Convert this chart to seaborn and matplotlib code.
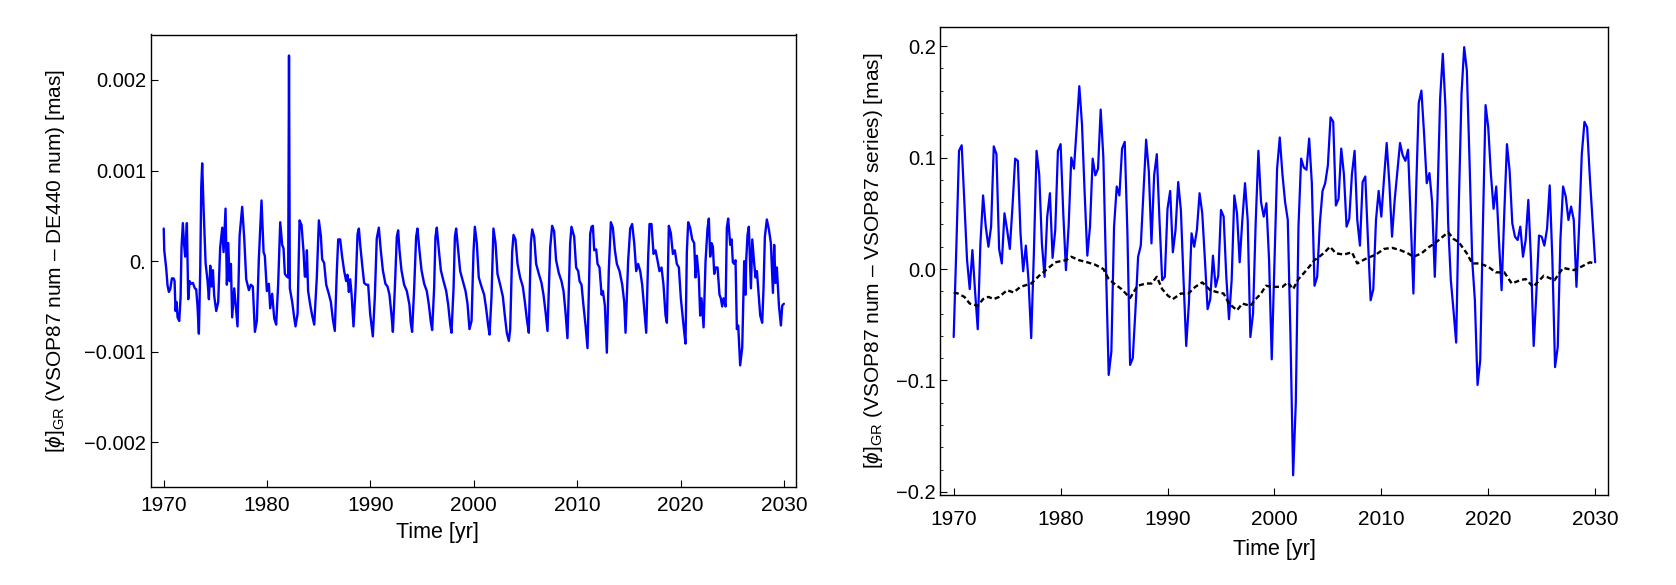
import numpy as np
import pandas as pd
import matplotlib
matplotlib.use("Agg")
import matplotlib.pyplot as plt
import seaborn as sns
from matplotlib.ticker import MultipleLocator

# ---------------- data: left panel (VSOP87 num - DE440 num), values in 1e-3 mas ----------------
left_t = [1970.00, 1970.05, 1970.24, 1970.37, 1970.50, 1970.63, 1970.79, 1970.95, 1971.05, 1971.14,
          1971.24, 1971.34, 1971.50, 1971.63, 1971.72, 1971.85, 1971.98, 1972.08, 1972.24, 1972.37,
          1972.50, 1972.63, 1972.82, 1973.01, 1973.14, 1973.27, 1973.40, 1973.53, 1973.63, 1973.72,
          1973.85, 1974.05, 1974.24, 1974.37, 1974.50, 1974.63, 1974.76, 1974.88, 1975.08, 1975.27,
          1975.46, 1975.66, 1975.79, 1975.98, 1976.11, 1976.24, 1976.37, 1976.50, 1976.62, 1976.82,
          1977.01, 1977.14, 1977.34, 1977.59, 1977.79, 1977.98, 1978.24, 1978.43, 1978.62, 1978.82,
          1979.01, 1979.20, 1979.46, 1979.66, 1979.78, 1979.98, 1980.17, 1980.30, 1980.49, 1980.69,
          1980.88, 1981.07, 1981.27, 1981.46, 1981.59, 1981.72, 1981.91, 1982.04, 1982.12, 1982.20,
          1982.43, 1982.62, 1982.75, 1982.95, 1983.14, 1983.33, 1983.53, 1983.65, 1983.78, 1983.85,
          1983.97, 1984.17, 1984.36, 1984.56, 1984.81, 1985.01, 1985.20, 1985.33, 1985.52, 1985.72,
          1985.97, 1986.17, 1986.36, 1986.55, 1986.75, 1986.88, 1987.07, 1987.26, 1987.46, 1987.65,
          1987.78, 1987.91, 1988.04, 1988.17, 1988.36, 1988.56, 1988.75, 1988.88, 1989.01, 1989.20,
          1989.39, 1989.59, 1989.78, 1989.97, 1990.23, 1990.42, 1990.61, 1990.81, 1991.00, 1991.20,
          1991.45, 1991.65, 1991.84, 1992.04, 1992.17, 1992.36, 1992.55, 1992.68, 1992.81, 1993.00,
          1993.26, 1993.52, 1993.77, 1993.90, 1994.03, 1994.23, 1994.42, 1994.55, 1994.74, 1994.94,
          1995.20, 1995.45, 1995.65, 1995.84, 1995.97, 1996.16, 1996.29, 1996.42, 1996.62, 1996.81,
          1997.07, 1997.33, 1997.52, 1997.72, 1997.84, 1998.04, 1998.17, 1998.29, 1998.49, 1998.68,
          1998.94, 1999.20, 1999.39, 1999.58, 1999.78, 1999.97, 2000.10, 2000.29, 2000.48, 2000.74,
          2001.00, 2001.19, 2001.39, 2001.52, 2001.71, 2001.90, 2002.10, 2002.29, 2002.55, 2002.81,
          2003.00, 2003.19, 2003.39, 2003.52, 2003.71, 2003.84, 2004.03, 2004.23, 2004.48, 2004.74,
          2004.94, 2005.13, 2005.32, 2005.52, 2005.65, 2005.84, 2006.03, 2006.29, 2006.55, 2006.74,
          2006.94, 2007.13, 2007.39, 2007.58, 2007.77, 2007.96, 2008.22, 2008.48, 2008.68, 2008.87,
          2009.06, 2009.32, 2009.45, 2009.71, 2009.90, 2010.10, 2010.23, 2010.42, 2010.61, 2010.81,
          2011.00, 2011.26, 2011.39, 2011.52, 2011.65, 2011.84, 2011.97, 2012.16, 2012.36, 2012.49,
          2012.68, 2012.87, 2013.06, 2013.26, 2013.45, 2013.65, 2013.84, 2014.10, 2014.36, 2014.55,
          2014.68, 2014.93, 2015.13, 2015.32, 2015.52, 2015.71, 2015.90, 2016.10, 2016.29, 2016.48,
          2016.68, 2016.87, 2017.00, 2017.19, 2017.39, 2017.58, 2017.77, 2017.96, 2018.16, 2018.35,
          2018.55, 2018.68, 2018.87, 2019.06, 2019.26, 2019.45, 2019.64, 2019.84, 2020.03, 2020.29,
          2020.48, 2020.61, 2020.74, 2020.93, 2021.13, 2021.32, 2021.45, 2021.58, 2021.77, 2021.90,
          2022.03, 2022.23, 2022.42, 2022.61, 2022.74, 2022.87, 2023.00, 2023.13, 2023.26, 2023.39,
          2023.58, 2023.77, 2023.90, 2024.03, 2024.16, 2024.36, 2024.48, 2024.61, 2024.81, 2024.94,
          2025.06, 2025.19, 2025.32, 2025.45, 2025.58, 2025.77, 2025.97, 2026.16, 2026.29, 2026.35,
          2026.48, 2026.61, 2026.81, 2026.94, 2027.13, 2027.26, 2027.39, 2027.58, 2027.71, 2027.90,
          2028.03, 2028.16, 2028.35, 2028.55, 2028.74, 2028.94, 2029.06, 2029.19, 2029.32, 2029.52,
          2029.71, 2029.84, 2030.00]
left_v = [0.36, 0.12, -0.08, -0.27, -0.34, -0.31, -0.19, -0.19, -0.22, -0.55,
          -0.45, -0.62, -0.66, -0.40, 0.15, 0.42, 0.17, 0.05, 0.42, -0.42,
          -0.22, -0.25, -0.24, -0.30, -0.31, -0.50, -0.80, -0.10, 0.82, 1.08,
          0.60, -0.02, -0.22, -0.42, -0.05, -0.28, -0.10, -0.38, -0.55, -0.45,
          0.15, 0.37, 0.10, 0.58, -0.26, 0.20, -0.22, -0.03, -0.62, -0.30,
          -0.55, -0.72, 0.28, 0.60, 0.25, -0.20, -0.32, -0.26, -0.28, -0.78,
          -0.66, 0.02, 0.67, 0.10, 0.06, -0.33, -0.25, -0.52, -0.36, -0.63,
          -0.70, -0.26, 0.43, 0.18, 0.14, -0.14, -0.17, -0.18, 2.27, -0.30,
          -0.45, -0.62, -0.72, -0.58, 0.45, 0.40, 0.10, -0.17, -0.17, 0.12,
          -0.33, -0.48, -0.60, -0.70, -0.18, 0.45, 0.28, 0.02, -0.02, -0.26,
          -0.36, -0.45, -0.64, -0.77, -0.10, 0.24, 0.24, 0.05, -0.11, -0.22,
          -0.15, -0.34, -0.20, -0.36, -0.72, -0.30, 0.30, 0.36, 0.18, -0.04,
          -0.24, -0.26, -0.26, -0.58, -0.83, -0.40, 0.25, 0.37, 0.12, -0.10,
          -0.25, -0.28, -0.37, -0.60, -0.78, -0.30, 0.27, 0.34, 0.12, -0.10,
          -0.26, -0.33, -0.48, -0.68, -0.78, -0.30, 0.27, 0.36, 0.12, -0.10,
          -0.25, -0.33, -0.48, -0.67, -0.76, -0.30, 0.27, 0.37, 0.12, -0.10,
          -0.22, -0.33, -0.48, -0.70, -0.79, -0.30, 0.27, 0.36, 0.12, -0.11,
          -0.22, -0.33, -0.47, -0.75, -0.66, 0.10, 0.38, 0.20, -0.18, -0.28,
          -0.37, -0.52, -0.71, -0.81, -0.40, 0.36, 0.20, -0.14, -0.26, -0.39,
          -0.60, -0.79, -0.88, -0.75, 0.10, 0.29, 0.24, -0.03, -0.18, -0.28,
          -0.45, -0.64, -0.79, 0.20, 0.35, 0.27, -0.03, -0.14, -0.24, -0.37,
          -0.56, -0.77, 0.15, 0.39, 0.33, 0.01, -0.13, -0.22, -0.33, -0.56,
          -0.85, 0.20, 0.38, 0.27, -0.07, -0.11, -0.22, -0.26, -0.49, -0.71,
          -0.96, 0.30, 0.38, 0.39, 0.12, 0.13, -0.03, -0.07, -0.37, -0.33,
          -0.49, -1.01, -0.10, 0.43, 0.37, 0.12, -0.03, -0.11, -0.26, -0.45,
          -0.79, 0.00, 0.36, 0.41, 0.20, -0.11, -0.03, -0.11, -0.26, -0.52,
          -0.79, 0.05, 0.41, 0.41, 0.08, 0.12, 0.01, -0.11, -0.07, -0.26,
          -0.60, -0.68, 0.39, 0.31, 0.08, 0.12, -0.03, -0.07, -0.41, -0.71,
          -0.91, 0.10, 0.43, 0.37, 0.24, 0.20, -0.18, 0.06, -0.18, -0.60,
          -0.41, -0.73, 0.00, 0.36, 0.47, 0.05, 0.20, 0.16, -0.14, -0.07,
          -0.07, -0.37, -0.41, -0.50, -0.41, -0.50, 0.37, 0.47, 0.18, 0.24,
          -0.01, -0.03, 0.01, -0.75, -0.71, -1.15, -0.95, 0.00, -0.37, 0.00,
          0.29, 0.38, -0.30, 0.24, -0.03, -0.18, -0.11, -0.41, -0.60, -0.68,
          -0.30, 0.27, 0.46, 0.35, 0.20, -0.35, 0.18, -0.24, -0.07, -0.49,
          -0.71, -0.49, -0.47]

# ---------------- data: right panel (VSOP87 num - VSOP87 series), mas, sampled every 0.25 yr ----------------
right_t = [1970 + 0.25 * i for i in range(241)]
right_blue = [
    -0.061, 0.020, 0.106, 0.111, 0.060, 0.008, -0.018, 0.017, -0.020, -0.054,
    0.023, 0.066, 0.038, 0.020, 0.038, 0.110, 0.103, 0.018, 0.005, 0.050,
    0.035, 0.018, 0.056, 0.099, 0.097, 0.032, -0.002, 0.021, -0.010, -0.062,
    0.014, 0.106, 0.085, 0.023, -0.007, 0.047, 0.068, 0.010, 0.035, 0.106,
    0.112, 0.050, -0.001, 0.038, 0.100, 0.090, 0.126, 0.164, 0.130, 0.068,
    0.012, 0.038, 0.099, 0.084, 0.090, 0.143, 0.100, -0.001, -0.095, -0.074,
    0.038, 0.074, 0.066, 0.108, 0.114, 0.032, -0.086, -0.080, -0.037, 0.011,
    0.021, 0.068, 0.116, 0.088, 0.023, 0.084, 0.103, 0.044, -0.010, -0.007,
    0.054, 0.070, 0.015, 0.035, 0.078, 0.053, -0.010, -0.069, -0.031, 0.032,
    0.020, 0.035, 0.068, 0.050, 0.008, -0.036, -0.027, 0.012, -0.016, -0.006,
    0.053, 0.047, -0.007, -0.045, -0.010, 0.066, 0.050, 0.006, 0.044, 0.077,
    0.044, -0.061, -0.040, 0.042, 0.106, 0.060, 0.047, 0.059, 0.008, -0.081,
    0.003, 0.090, 0.118, 0.085, 0.060, 0.044, -0.060, -0.185, -0.120, 0.038,
    0.099, 0.091, 0.089, 0.117, 0.077, -0.015, -0.007, 0.041, 0.070, 0.077,
    0.093, 0.136, 0.132, 0.057, 0.063, 0.108, 0.085, 0.038, 0.045, 0.085,
    0.106, 0.044, 0.021, 0.078, 0.083, 0.026, -0.028, -0.018, 0.044, 0.070,
    0.047, 0.081, 0.113, 0.077, 0.029, 0.062, 0.088, 0.113, 0.102, 0.097,
    0.107, 0.044, -0.022, 0.068, 0.149, 0.160, 0.121, 0.077, 0.086, 0.060,
    -0.007, 0.062, 0.153, 0.193, 0.145, 0.041, -0.010, -0.037, -0.066, 0.059,
    0.157, 0.199, 0.178, 0.097, 0.008, -0.028, -0.104, -0.082, 0.038, 0.147,
    0.127, 0.085, 0.054, 0.074, 0.026, -0.019, 0.050, 0.112, 0.088, 0.041,
    0.029, 0.026, 0.038, 0.011, 0.026, 0.062, 0.008, -0.069, -0.022, 0.030,
    0.029, 0.021, 0.036, 0.075, 0.008, -0.088, -0.070, 0.026, 0.074, 0.065,
    0.044, 0.056, 0.044, -0.016, 0.038, 0.103, 0.132, 0.127, 0.083, 0.044,
    0.006]

dash_t = [1970.0, 1970.4, 1971.0, 1971.5, 1972.25, 1972.75, 1973.25, 1973.75, 1974.25, 1975.0,
          1975.6, 1976.25, 1977.25, 1978.0, 1978.75, 1979.5, 1980.5, 1981.0, 1981.7, 1982.5,
          1983.2, 1984.0, 1984.5, 1985.0, 1985.7, 1986.5, 1987.2, 1988.0, 1988.5, 1989.0,
          1989.5, 1990.05, 1990.5, 1991.25, 1991.95, 1992.6, 1993.25, 1994.0, 1994.75, 1995.25,
          1995.75, 1996.5, 1997.0, 1997.75, 1998.25, 1998.75, 1999.2, 1999.75, 2000.0, 2000.75,
          2001.25, 2001.75, 2002.25, 2003.0, 2003.75, 2004.2, 2004.7, 2005.2, 2005.75, 2006.5,
          2007.25, 2007.75, 2008.5, 2009.5, 2010.25, 2011.0, 2011.75, 2012.5, 2013.0, 2013.75,
          2014.5, 2015.0, 2015.5, 2016.25, 2016.75, 2017.25, 2018.0, 2018.5, 2019.2, 2020.0,
          2020.7, 2021.5, 2022.2, 2023.0, 2023.5, 2024.2, 2025.2, 2026.2, 2027.0, 2028.0,
          2028.7, 2029.5, 2030.0]
dash_v = [-0.021, -0.022, -0.025, -0.031, -0.033, -0.027, -0.025, -0.027, -0.025, -0.019,
          -0.021, -0.016, -0.013, -0.006, 0.000, 0.006, 0.008, 0.011, 0.008, 0.006,
          0.004, 0.000, -0.009, -0.013, -0.018, -0.026, -0.015, -0.013, -0.013, -0.007,
          -0.018, -0.024, -0.027, -0.022, -0.022, -0.016, -0.012, -0.019, -0.021, -0.022,
          -0.031, -0.037, -0.031, -0.033, -0.027, -0.022, -0.015, -0.016, -0.016, -0.016,
          -0.012, -0.018, -0.009, -0.001, 0.008, 0.011, 0.015, 0.020, 0.014, 0.013,
          0.015, 0.005, 0.009, 0.013, 0.018, 0.019, 0.017, 0.014, 0.011, 0.014,
          0.020, 0.023, 0.027, 0.033, 0.027, 0.024, 0.014, 0.005, 0.005, 0.002,
          -0.003, -0.003, -0.013, -0.010, -0.009, -0.016, -0.006, -0.010, 0.001, -0.001,
          0.002, 0.006, 0.005]

x_ticks = [1970, 1980, 1990, 2000, 2010, 2020, 2030]
left_yticks = [-0.002, -0.001, 0.0, 0.001, 0.002]
left_yticklabels = ["\u22120.002", "\u22120.001", "0.", "0.001", "0.002"]
right_yticks = [-0.2, -0.1, 0.0, 0.1, 0.2]
right_yticklabels = ["\u22120.2", "\u22120.1", "0.0", "0.1", "0.2"]

# ---------------- figure ----------------
sns.set_style("white")
plt.rcParams["font.family"] = ["Liberation Sans", "DejaVu Sans"]
plt.rcParams["mathtext.fontset"] = "custom"
plt.rcParams["mathtext.rm"] = "Liberation Sans"
plt.rcParams["mathtext.it"] = "Liberation Sans:italic"
for k in ("text.color", "axes.labelcolor", "xtick.color", "ytick.color", "axes.edgecolor"):
    plt.rcParams[k] = "black"

W, H = 1676, 585
fig = plt.figure(figsize=(W / 100, H / 100), dpi=100)
fig.patch.set_facecolor("white")

def rect(x0, x1, ytop, ybot):
    return [x0 / W, (H - ybot) / H, (x1 - x0) / W, (ybot - ytop) / H]

axL = fig.add_axes(rect(150.5, 796.4, 34.5, 487.3))
axR = fig.add_axes(rect(940, 1608.3, 27.3, 495))

dfL = pd.DataFrame({"t": left_t, "v": np.array(left_v) * 1e-3})
sns.lineplot(data=dfL, x="t", y="v", ax=axL, color="#0000ff", lw=1.7,
             sort=False, estimator=None)

dfR = pd.DataFrame({"t": right_t, "v": right_blue})
sns.lineplot(data=dfR, x="t", y="v", ax=axR, color="#0000ff", lw=1.6,
             sort=False, estimator=None)
dfD = pd.DataFrame({"t": dash_t, "v": dash_v})
sns.lineplot(data=dfD, x="t", y="v", ax=axR, color="black", lw=1.7,
             sort=False, estimator=None)
axR.lines[-1].set_dashes((2.2, 1.3))

axL.set_xlim(1968.72, 2031.21)
axL.set_ylim(-0.002496, 0.002502)
axR.set_xlim(1968.72, 2031.23)
axR.set_ylim(-0.2027, 0.2168)

for ax in (axL, axR):
    for s in ax.spines.values():
        s.set_visible(True)
        s.set_color("black")
        s.set_linewidth(1.0)
    ax.set_xticks(x_ticks)
    ax.set_xticklabels([str(x) for x in x_ticks], fontsize=15)
    ax.tick_params(axis="both", which="major", direction="in", length=4.7, width=0.8,
                   bottom=True, left=True, top=False, right=False, colors="black")
    ax.tick_params(axis="y", labelsize=14.5, pad=3)
    ax.grid(False)
    ax.set_facecolor("white")

axL.tick_params(axis="x", pad=6.5)
axR.tick_params(axis="x", pad=11)

axL.set_yticks(left_yticks)
axL.set_yticklabels(left_yticklabels)
axR.set_yticks(right_yticks)
axR.set_yticklabels(right_yticklabels)
axR.yaxis.set_minor_locator(MultipleLocator(0.02))
axR.tick_params(axis="y", which="minor", direction="in", length=2.5, width=0.6,
                left=True, right=False)

axL.set_xlabel("Time [yr]", fontsize=15.5)
axR.set_xlabel("Time [yr]", fontsize=15.5)
axL.xaxis.set_label_coords(0.445, -0.077)
axR.xaxis.set_label_coords(0.5, -0.094)

dash = "\u2013"
axL.set_ylabel(r"$[\phi]_{\mathrm{GR}}$ (VSOP87 num " + dash + " DE440 num) [mas]", fontsize=15)
axR.set_ylabel(r"$[\phi]_{\mathrm{GR}}$ (VSOP87 num " + dash + " VSOP87 series) [mas]", fontsize=15)
axL.yaxis.set_label_coords(-0.130, 0.5)
axR.yaxis.set_label_coords(-0.082, 0.5)

fig.savefig("out.png", dpi=100, facecolor="white")
